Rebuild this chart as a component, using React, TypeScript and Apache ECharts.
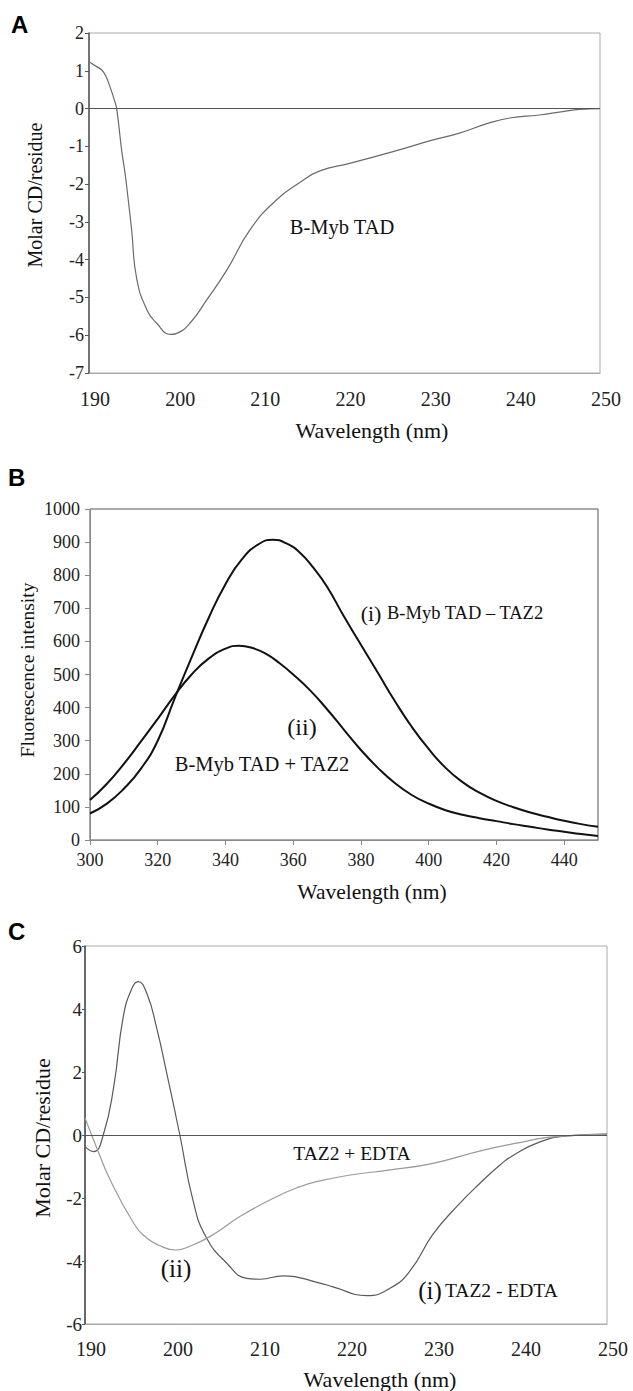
import React, { useEffect, useRef } from "react";
import * as echarts from "echarts";

// Panel A: CD spectrum of B-Myb TAD
const A_WL = [190, 190.9, 191.5, 192.0, 192.46, 192.97, 193.25, 193.83, 194.23, 194.61, 195.0, 195.6, 196.8, 197.9, 199.6, 200.3, 201.9, 203.8, 206.2, 208.9, 212, 214.8, 217.1, 220.6, 225.7, 230.4, 233.5, 237, 239.4, 242.9, 245.6, 247.6, 250];
const A_CD = [1.24, 1.11, 1.02, 0.85, 0.58, 0.23, 0, -1.1, -1.71, -2.42, -3.2, -4.5, -5.33, -5.67, -5.98, -5.95, -5.67, -5.07, -4.27, -3.21, -2.42, -1.95, -1.65, -1.45, -1.14, -0.83, -0.65, -0.38, -0.25, -0.17, -0.08, -0.02, 0];

// Panel B: fluorescence
const B_WL = [300, 305, 310, 315, 320, 325, 330, 335, 340, 345, 350, 354, 358, 362, 366, 370, 375, 380, 385, 390, 395, 400, 405, 410, 415, 420, 425, 430, 435, 440, 445, 450];
const B_I = [80, 110, 155, 215, 300, 428, 552, 670, 773, 850, 895, 907, 896, 868, 822, 765, 675, 590, 505, 420, 342, 275, 218, 175, 143, 118, 99, 83, 70, 58, 48, 40];
const B_II_WL = [300, 305, 310, 315, 320, 325, 330, 335, 340, 344, 348, 352, 356, 360, 365, 370, 375, 380, 385, 390, 395, 400, 405, 410, 415, 420, 425, 430, 435, 440, 445, 450];
const B_II = [121, 170, 230, 297, 366, 437, 500, 548, 578, 587, 580, 562, 534, 500, 452, 395, 333, 272, 218, 172, 136, 110, 90, 76, 66, 57, 48, 40, 32, 25, 18, 12];

// Panel C: CD of TAZ2 -/+ EDTA
const C_I_WL = [190, 191, 192.1, 193.3, 194.4, 195.4, 196.1, 197.1, 198.2, 199.4, 200.9, 202.4, 203.9, 206.3, 208.6, 210.1, 212.8, 217.0, 218.5, 222.4, 225.1, 227.4, 230.0, 232.8, 235.4, 237.7, 239.2, 242.3, 245.4, 250];
const C_I = [-0.37, -0.53, 0, 1.53, 3.76, 4.66, 4.87, 4.5, 3.44, 1.96, 0, -2.06, -3.23, -4.07, -4.55, -4.58, -4.47, -4.7, -4.82, -5.1, -4.86, -4.3, -3.15, -2.25, -1.53, -0.95, -0.65, -0.22, -0.03, 0.03];
const C_II_WL = [190, 191.3, 192.9, 195.6, 197.1, 198.5, 200.4, 202.4, 204.7, 207.8, 212.0, 214.7, 216.6, 220.5, 225.1, 230.0, 235.8, 239.6, 243.4, 250];
const C_II = [0.54, -0.37, -1.43, -2.8, -3.27, -3.5, -3.65, -3.49, -3.17, -2.59, -1.96, -1.64, -1.48, -1.27, -1.11, -0.9, -0.48, -0.26, -0.07, 0.03];

const SERIF = "'Liberation Serif', 'Times New Roman', Times, serif";
const SANS = "'Liberation Sans', Arial, Helvetica, sans-serif";

const pairs = (xs: number[], ys: number[]) => xs.map((x, i) => [x, ys[i]]);

export default function App() {
  const ref = useRef<HTMLDivElement>(null);
  useEffect(() => {
    if (!ref.current) return;
    const chart = echarts.init(ref.current, null, { renderer: "svg" });
    const zeroLine = (color: string) => ({
      silent: true,
      symbol: ["none", "none"],
      label: { show: false },
      lineStyle: { color, width: 1, type: "solid" },
      data: [{ yAxis: 0 }],
    });
    const lbl = (size: number, margin: number, pad?: number[]) => ({
      fontFamily: SERIF,
      fontSize: size,
      color: "#222",
      margin,
      formatter: (v: number) => String(v),
      ...(pad ? { padding: pad } : {}),
    });
    const txt = (text: string, x: number, y: number, size: number, opts: any = {}) => ({
      type: "text",
      x,
      y,
      rotation: opts.rotation || 0,
      style: {
        text,
        fontFamily: opts.family || SERIF,
        fontSize: size,
        fontWeight: opts.weight || "normal",
        fill: opts.fill || "#111",
        align: opts.align || "center",
        verticalAlign: "middle",
      },
    });
    const line = (xi: number, xs: number[], ys: number[], color: string, width: number, extra: any = {}) => ({
      type: "line",
      xAxisIndex: xi,
      yAxisIndex: xi,
      data: pairs(xs, ys),
      showSymbol: false,
      smooth: 0.5,
      lineStyle: { color, width },
      ...extra,
    });
    chart.setOption({
      animation: false,
      backgroundColor: "#fff",
      grid: [
        { left: 89, top: 33, width: 511, height: 340, show: true, borderColor: "#aaa", borderWidth: 1 },
        { left: 90, top: 509, width: 508, height: 331, show: true, borderColor: "#555", borderWidth: 1 },
        { left: 85, top: 946, width: 522, height: 378, show: true, borderColor: "#aaa", borderWidth: 1 },
      ],
      xAxis: [
        {
          gridIndex: 0, type: "value", min: 190, max: 250, interval: 10,
          axisLine: { show: true, onZero: false, lineStyle: { color: "#aaa" } },
          axisTick: { show: false }, splitLine: { show: false },
          axisLabel: lbl(20, 16, [0, 0, 0, 12]),
        },
        {
          gridIndex: 1, type: "value", min: 300, max: 450, interval: 20,
          axisLine: { show: true, onZero: false, lineStyle: { color: "#888" } },
          axisTick: { show: true, length: 5, lineStyle: { color: "#888" } }, splitLine: { show: false },
          axisLabel: { ...lbl(18, 11), showMaxLabel: false },
        },
        {
          gridIndex: 2, type: "value", min: 190, max: 250, interval: 10,
          axisLine: { show: true, onZero: false, lineStyle: { color: "#aaa" } },
          axisTick: { show: false }, splitLine: { show: false },
          axisLabel: lbl(20, 15, [0, 0, 0, 12]),
        },
      ],
      yAxis: [
        {
          gridIndex: 0, type: "value", min: -7, max: 2, interval: 1,
          axisLine: { show: true, onZero: false, lineStyle: { color: "#555", width: 1.5 } },
          axisTick: { show: true, length: 4, lineStyle: { color: "#555" } }, splitLine: { show: false },
          axisLabel: lbl(18, 5),
        },
        {
          gridIndex: 1, type: "value", min: 0, max: 1000, interval: 100,
          axisLine: { show: true, onZero: false, lineStyle: { color: "#888" } },
          axisTick: { show: true, length: 5, lineStyle: { color: "#888" } }, splitLine: { show: false },
          axisLabel: lbl(18, 10),
        },
        {
          gridIndex: 2, type: "value", min: -6, max: 6, interval: 2,
          axisLine: { show: true, onZero: false, lineStyle: { color: "#444", width: 1.5 } },
          axisTick: { show: true, length: 3, lineStyle: { color: "#555" } }, splitLine: { show: false },
          axisLabel: lbl(19, 3),
        },
      ],
      series: [
        line(0, A_WL, A_CD, "#6a6a6a", 1.2, { markLine: zeroLine("#555") }),
        line(1, B_WL, B_I, "#111", 2),
        line(1, B_II_WL, B_II, "#111", 2),
        line(2, C_I_WL, C_I, "#5a5a5a", 1.2, { markLine: zeroLine("#555") }),
        line(2, C_II_WL, C_II, "#9a9a9a", 1.2),
      ],
      graphic: [
        txt("A", 11, 24, 24, { family: SANS, weight: "bold", align: "left", fill: "#000" }),
        txt("B", 8, 477, 24, { family: SANS, weight: "bold", align: "left", fill: "#000" }),
        txt("C", 8, 931, 24, { family: SANS, weight: "bold", align: "left", fill: "#000" }),
        // axis titles
        txt("Wavelength (nm)", 372, 430, 22),
        txt("Wavelength (nm)", 372, 892, 21.5),
        txt("Wavelength (nm)", 380, 1379, 22),
        txt("Molar CD/residue", 35, 195, 20, { rotation: Math.PI / 2 }),
        txt("Fluorescence intensity", 27, 670, 19.5, { rotation: Math.PI / 2 }),
        txt("Molar CD/residue", 42, 1138, 22, { rotation: Math.PI / 2 }),
        // annotations
        txt("B-Myb TAD", 342, 227, 20.5),
        txt("(i)", 371, 613, 22),
        txt("B-Myb TAD \u2013 TAZ2", 387, 613, 18.5, { align: "left" }),
        txt("(ii)", 302, 727, 24),
        txt("B-Myb TAD + TAZ2", 262, 764, 20.5),
        txt("TAZ2 + EDTA", 352, 1153, 19.5),
        txt("(ii)", 176, 1268, 25),
        txt("(i)", 430, 1290, 25),
        txt("TAZ2 - EDTA", 445, 1290, 19.5, { align: "left" }),
      ],
    });
    return () => chart.dispose();
  }, []);
  return (
    <div
      ref={ref}
      style={{ position: "absolute", left: 0, top: 0, width: 633, height: 1391, background: "#fff" }}
    />
  );
}
